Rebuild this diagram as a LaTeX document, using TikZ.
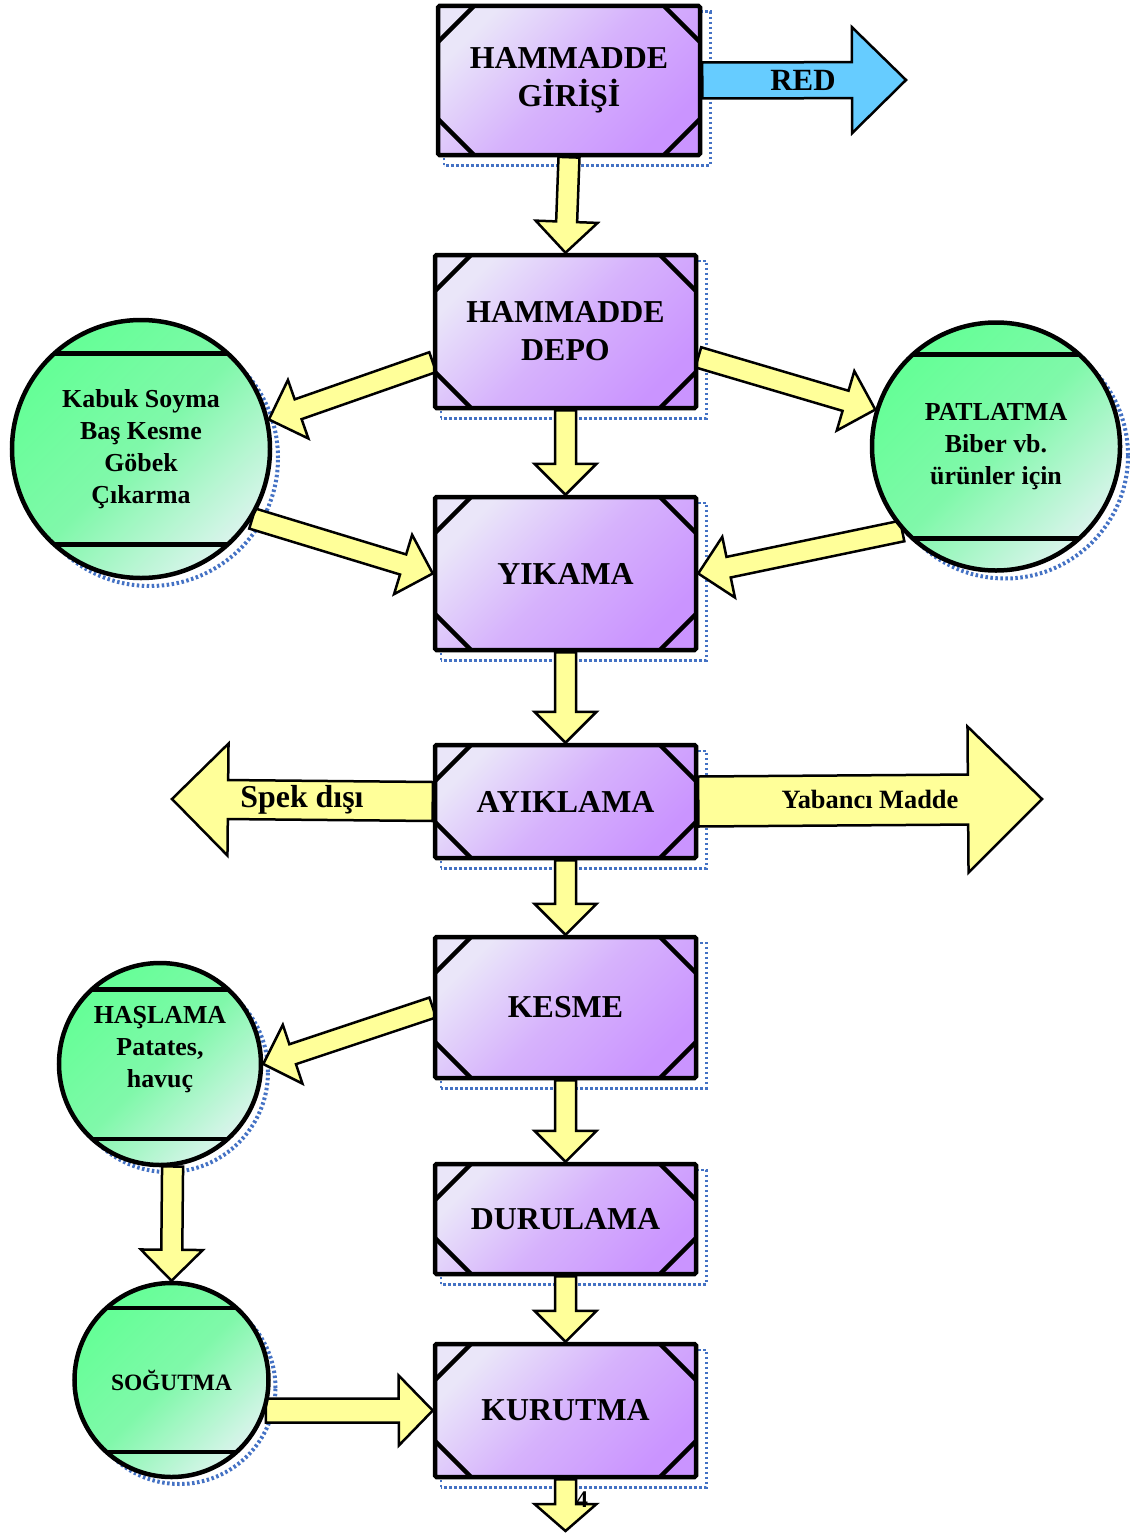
\documentclass[tikz,border=0pt]{standalone}
\usepackage{fontspec}
\setmainfont{Liberation Serif}
\usetikzlibrary{calc}

\definecolor{morac}{RGB}{234,230,249}
\definecolor{mororta}{RGB}{214,178,252}
\definecolor{mor}{RGB}{202,148,255}
\definecolor{yesil}{RGB}{100,255,150}
\definecolor{yesilorta}{RGB}{128,248,170}
\definecolor{yesilac}{RGB}{218,244,236}
\definecolor{sari}{RGB}{255,255,153}
\definecolor{mavi}{RGB}{102,204,255}
\definecolor{golgemavi}{RGB}{68,114,196}

\pgfdeclarelayer{golge}
\pgfdeclarelayer{ok}
\pgfsetlayers{golge,ok,main}

% block arrow: [style]{from}{tip}{half shaft}{half head}{head length}
\newcommand\okciz[6][]{%
  \coordinate (ok-b) at ($(#3)!#6!(#2)$);
  \draw[okstil,#1] ($(#2)!#4!90:(#3)$) -- ($(ok-b)!#4!90:(#3)$) -- ($(ok-b)!#5!90:(#3)$) -- (#3)
    -- ($(ok-b)!#5!-90:(#3)$) -- ($(ok-b)!#4!-90:(#3)$) -- ($(#2)!#4!-90:(#3)$) -- cycle;}

\begin{document}
\begin{tikzpicture}[x=1bp, y=-1bp,
    kutu/.style={draw, line width=4.5bp, rounded corners=1.5bp, minimum width=261bp,
      top color=morac, bottom color=mor, middle color=mororta, shading angle=45,
      align=center, inner sep=0pt, font=\bfseries\fontsize{32}{38}\selectfont,
      path picture={
        \draw[line width=4.5bp] ([yshift=-36bp]path picture bounding box.north west) -- ([xshift=36bp]path picture bounding box.north west);
        \draw[line width=4.5bp] ([yshift=-36bp]path picture bounding box.north east) -- ([xshift=-36bp]path picture bounding box.north east);
        \draw[line width=4.5bp] ([yshift=36bp]path picture bounding box.south west) -- ([xshift=36bp]path picture bounding box.south west);
        \draw[line width=4.5bp] ([yshift=36bp]path picture bounding box.south east) -- ([xshift=-36bp]path picture bounding box.south east);}},
    asama/.style={circle, draw, line width=4.5bp, top color=yesil, bottom color=yesilac,
      middle color=yesilorta, shading angle=45, align=center, inner sep=0pt,
      font=\bfseries\fontsize{26}{32}\selectfont,
      path picture={
        \draw[line width=4.5bp] ($(path picture bounding box.west)!0.74!(path picture bounding box.north west)$) -- ($(path picture bounding box.east)!0.74!(path picture bounding box.north east)$);
        \draw[line width=4.5bp] ($(path picture bounding box.west)!0.74!(path picture bounding box.south west)$) -- ($(path picture bounding box.east)!0.74!(path picture bounding box.south east)$);}},
    okstil/.style={draw=black, line width=2.5bp, fill=sari, line join=miter},
    golgestil/.style={draw=golgemavi, line width=2.5bp, dash pattern=on 2.5bp off 2.5bp},
    yazi/.style={font=\bfseries\fontsize{#1}{#1}\selectfont, inner sep=0pt}]
  \useasboundingbox (0,0) rectangle (1129,1535);

  % process boxes
  \node[kutu, minimum width=262bp, minimum height=149bp] (giris) at (569,80.5) {HAMMADDE\\GİRİŞİ};
  \node[kutu, minimum height=153bp] (depo) at (565.5,331.5) {HAMMADDE\\DEPO};
  \node[kutu, minimum height=153bp] (yikama) at (565.5,573.5) {YIKAMA};
  \node[kutu, minimum height=113bp] (ayikla) at (565.5,801.5) {AYIKLAMA};
  \node[kutu, minimum height=141bp] (kesme) at (565.5,1007.5) {KESME};
  \node[kutu, minimum height=110bp] (durula) at (565.5,1219) {DURULAMA};
  \node[kutu, minimum height=133bp] (kurut) at (565.5,1410.5) {KURUTMA};

  % side steps
  \node[asama, minimum size=258bp] (kabuk) at (141,449) {Kabuk Soyma\\Baş Kesme\\Göbek\\Çıkarma};
  \node[asama, minimum size=248bp] (patlat) at (996,446.5) {PATLATMA\\Biber vb.\\ürünler için};
  \node[asama, minimum size=202bp] (hasla) at (160,1064) {};
  \node[yazi=26, align=center, text depth=0pt] (hasla-yazi) at (160,1047) {HAŞLAMA\\[6bp]Patates,\\[6bp]havuç};
  \node[asama, minimum size=194bp, font=\bfseries\fontsize{23.5}{28}\selectfont] (sogut) at (171.5,1380) {SOĞUTMA};

  \coordinate (red-uc) at (906,80);
  \coordinate (spek-uc) at (172,799);
  \coordinate (yabanci-uc) at (1042,799);
  \coordinate (alt-uc) at (565.5,1531);

  \begin{pgfonlayer}{golge}
    \foreach \k in {giris,depo,yikama,ayikla,kesme,durula,kurut}
      \draw[golgestil] ($(\k.south west)+(8,8)$) rectangle ($(\k.north east)+(8,8)$);
    \draw[golgestil, line width=4bp] ($(kabuk.center)+(9,9)$) circle[radius=128bp];
    \draw[golgestil, line width=4bp] ($(patlat.center)+(9,9)$) circle[radius=123bp];
    \draw[golgestil, line width=4bp] ($(hasla.center)+(8,8)$) circle[radius=100bp];
    \draw[golgestil, line width=4bp] ($(sogut.center)+(8,8)$) circle[radius=96bp];
  \end{pgfonlayer}

  \begin{pgfonlayer}{ok}
    \okciz{giris.south}{depo.north}{10.5bp}{31bp}{31bp}
    \okciz{depo.south}{yikama.north}{10.5bp}{31bp}{31bp}
    \okciz{yikama.south}{ayikla.north}{10.5bp}{31bp}{31bp}
    \okciz{ayikla.south}{kesme.north}{10.5bp}{31bp}{31bp}
    \okciz{kesme.south}{durula.north}{10.5bp}{31bp}{31bp}
    \okciz{durula.south}{kurut.north}{10.5bp}{31bp}{31bp}
    \okciz{kurut.south}{alt-uc}{10.5bp}{31bp}{27bp}
    \okciz{depo.193}{kabuk.13}{10.5bp}{31bp}{31bp}
    \okciz{kabuk.-32}{yikama.west}{10.5bp}{31bp}{31bp}
    \okciz{depo.-11}{patlat.163}{10.5bp}{31bp}{31bp}
    \okciz{patlat.222}{yikama.east}{10.5bp}{31bp}{31bp}
    \okciz{kesme.west}{hasla.east}{10.5bp}{31bp}{31bp}
    \okciz{hasla.-83}{sogut.north}{10.5bp}{31bp}{31bp}
    \okciz{sogut.-18}{kurut.west}{12bp}{35bp}{34bp}
    \okciz{ayikla.west}{spek-uc}{19.5bp}{56bp}{56bp}
    \okciz{ayikla.east}{yabanci-uc}{25bp}{73bp}{74bp}
    \okciz[fill=mavi]{giris.east}{red-uc}{18bp}{53bp}{54bp}
  \end{pgfonlayer}

  % arrow labels
  \node[yazi=31] (red-yazi) at (803,80) {RED};
  \node[yazi=32] (spek-yazi) at (302,800) {Spek dışı};
  \node[yazi=26.5] (yabanci-yazi) at (870,799) {Yabancı Madde};
  \node[yazi=24] (sayfa) at (582,1500) {4};
\end{tikzpicture}
\end{document}
